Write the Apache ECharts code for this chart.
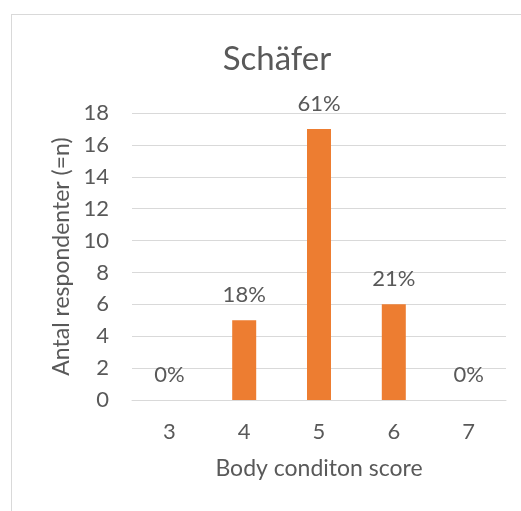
<!DOCTYPE html>
<html>
<head>
<meta charset="utf-8">
<script src="https://cdn.jsdelivr.net/npm/echarts@6/dist/echarts.min.js"></script>
<style>
  html, body { margin: 0; padding: 0; background: #fff; }
  #frame { position: absolute; left: 11px; top: 14px; width: 530px; height: 520px; border: 1px solid #d9d9d9; box-sizing: border-box; }
  #chart { position: absolute; left: 0; top: 0; width: 521px; height: 511px; }
</style>
</head>
<body>
<div id="frame"></div>
<div id="chart"></div>
<script>
// Data
const categories = ['3', '4', '5', '6', '7'];
const counts = [0, 5, 17, 6, 0];
const shares = ['0%', '18%', '61%', '21%', '0%'];

const textColor = '#595959';
const fontFamily = 'Lato, "Noto Sans", sans-serif';

const myChart = echarts.init(document.getElementById('chart'));

myChart.setOption({
    backgroundColor: 'transparent',
    title: {
        text: 'Schäfer',
        left: 272,
        top: 38,
        textAlign: 'center',
        textStyle: { color: textColor, fontSize: 33, fontWeight: 'normal', fontFamily: fontFamily }
    },
    grid: { left: 132, right: 15, top: 113, bottom: 111, containLabel: false },
    xAxis: {
        type: 'category',
        data: categories,
        name: 'Body conditon score',
        nameLocation: 'middle',
        nameGap: 57,
        nameTextStyle: { color: textColor, fontSize: 23, fontFamily: fontFamily },
        axisLine: { lineStyle: { color: '#d9d9d9', width: 1 } },
        axisTick: { show: false },
        axisLabel: { color: textColor, fontSize: 22, fontFamily: fontFamily, margin: 21 }
    },
    yAxis: {
        type: 'value',
        min: 0,
        max: 18,
        interval: 2,
        name: 'Antal respondenter (=n)',
        nameLocation: 'middle',
        nameGap: 56,
        nameTextStyle: { color: textColor, fontSize: 23, fontFamily: fontFamily },
        axisLine: { show: false },
        axisTick: { show: false },
        splitLine: { lineStyle: { color: '#d9d9d9', width: 1 } },
        axisLabel: { color: textColor, fontSize: 22, fontFamily: fontFamily, margin: 23 }
    },
    series: [{
        type: 'bar',
        data: counts,
        barWidth: 24,
        itemStyle: { color: '#ED7D31' },
        label: {
            show: true,
            position: 'top',
            distance: 14,
            color: textColor,
            fontSize: 22,
            fontFamily: fontFamily,
            formatter: (p) => shares[p.dataIndex]
        }
    }]
});
</script>
</body>
</html>
